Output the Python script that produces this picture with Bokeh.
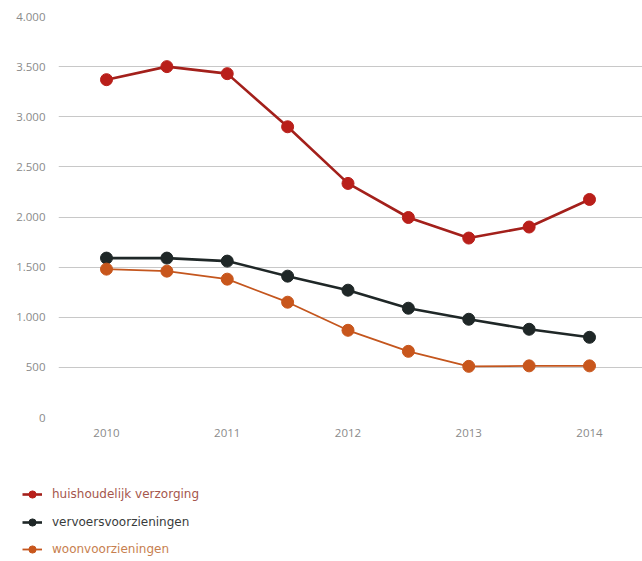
from bokeh.plotting import figure
from bokeh.models import (Range1d, FixedTicker, CustomJSTickFormatter, Legend, LegendItem,
                          ColumnDataSource)
from bokeh.embed import file_html
from bokeh.resources import INLINE

years = [2010, 2010.5, 2011, 2011.5, 2012, 2012.5, 2013, 2013.5, 2014]
huishoudelijk = [3370, 3500, 3430, 2900, 2335, 1995, 1790, 1900, 2175]
vervoers = [1590, 1590, 1560, 1410, 1270, 1090, 980, 880, 800]
woon = [1480, 1460, 1380, 1150, 870, 660, 510, 515, 515]

names = ["huishoudelijk verzorging", "vervoersvoorzieningen", "woonvoorzieningen"]
series = [huishoudelijk, vervoers, woon]
line_colors = ["#a3201b", "#1f2727", "#c4561e"]
dot_colors = ["#b91f1a", "#1f2727", "#c8561c"]
text_colors = ["#a5564c", "#383b3b", "#c7804f"]
widths = [2.6, 2.6, 1.8]
y_ticks = [0, 500, 1000, 1500, 2000, 2500, 3000, 3500, 4000]
x_ticks = [2010, 2011, 2012, 2013, 2014]

FONT = "Open Sans"

p = figure(width=642, height=441, output_backend="svg", toolbar_location=None,
           x_range=Range1d(2009.6025, 2014.4389), y_range=Range1d(0, 4000),
           min_border_left=58, min_border_right=0, min_border_top=16, min_border_bottom=24)
p.outline_line_color = None
p.xgrid.grid_line_color = None
p.ygrid.grid_line_color = "#c8c8c8"
p.ygrid.grid_line_width = 1

p.yaxis.ticker = FixedTicker(ticks=y_ticks)
p.yaxis.formatter = CustomJSTickFormatter(code="""
var s = String(Math.round(tick));
return s.replace(/\\B(?=(\\d{3})+(?!\\d))/g, '.');
""")
p.xaxis.ticker = FixedTicker(ticks=x_ticks)
for ax in (p.xaxis, p.yaxis):
    ax.axis_line_color = None
    ax.major_tick_line_color = None
    ax.minor_tick_line_color = None
    ax.major_tick_out = 0
    ax.major_tick_in = 0
    ax.minor_tick_out = 0
    ax.major_label_text_color = "#8a8a8a"
    ax.major_label_text_font = FONT
    ax.major_label_text_font_size = "11.5px"
p.yaxis.major_label_standoff = 13
p.xaxis.major_label_standoff = 11

# legend panel (same data, renderers hidden; only the legend is shown)
p2 = figure(width=642, height=120, output_backend="svg", toolbar_location=None,
            x_range=Range1d(0, 1), y_range=Range1d(0, 1),
            x_axis_location=None, y_axis_location=None,
            min_border_left=0, min_border_right=0, min_border_top=0, min_border_bottom=0)
p2.outline_line_color = None
p2.xgrid.grid_line_color = None
p2.ygrid.grid_line_color = None

legend_bottom = [58, 30, 3]
for i, (name, vals) in enumerate(zip(names, series)):
    src = ColumnDataSource(dict(x=years, y=vals))
    p.line("x", "y", source=src, line_color=line_colors[i], line_width=widths[i])
    p.scatter("x", "y", source=src, size=12, fill_color=dot_colors[i], line_color=dot_colors[i])
    ln = p2.line("x", "y", source=src, line_color=line_colors[i], line_width=widths[i], visible=False)
    sc = p2.scatter("x", "y", source=src, size=11, fill_color=dot_colors[i],
                    line_color=dot_colors[i], visible=False)
    leg = Legend(items=[LegendItem(label=name, renderers=[ln, sc])],
                 location=(22, legend_bottom[i]), padding=3, margin=0, spacing=0,
                 glyph_width=20, glyph_height=18, label_standoff=10,
                 label_text_font="DejaVu Sans", label_text_font_size="12px",
                 label_text_color=text_colors[i],
                 background_fill_alpha=0, border_line_color=None)
    p2.add_layout(leg, "center")

open("out.html", "w").write(file_html([p, p2], INLINE))
